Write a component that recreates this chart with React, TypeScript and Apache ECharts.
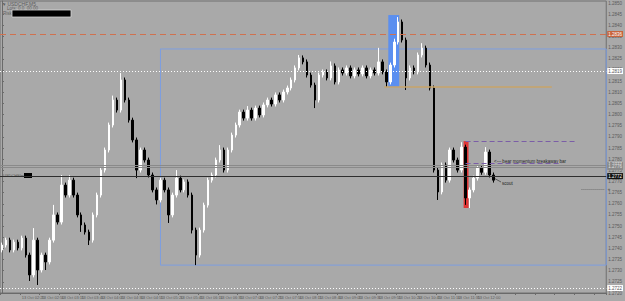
import React, { useEffect, useRef } from "react";
import * as echarts from "echarts";

// Prices in points (1e-5)
const firstOpen = 127393;
const closes = [
  127415, 127437, 127393, 127428, 127402, 127446, 127370, 127281, 127437, 127303,
  127370, 127339, 127437, 127550, 127518, 127684, 127639, 127706, 127639, 127550,
  127505, 127473, 127437, 127550, 127639, 127751, 127841, 127953, 128065, 128020,
  128155, 128065, 127975, 127886, 127751, 127841, 127796, 127729, 127662, 127617,
  127706, 127662, 127550, 127639, 127715, 127662, 127698, 127639, 127482, 127370,
  127482, 127594, 127706, 127729, 127796, 127841, 127751, 127841, 127908, 127953,
  128011, 127984, 128020, 127984, 128029, 127998, 128043, 128065, 128047, 128088,
  128065, 128101, 128119, 128155, 128209, 128254, 128236, 128177, 128132, 128065,
  128177, 128191, 128164, 128218, 128146, 128200, 128186, 128209, 128173, 128200,
  128182, 128209, 128173, 128200, 128186, 128236, 128191, 128146, 128222, 128325,
  128415, 128334, 128164, 128209, 128191, 128267, 128298, 128222, 128119, 127751,
  127653, 127774, 127706, 127841, 127796, 127751, 127854, 127626, 127662, 127715,
  127760, 127741, 127832, 127729, 127706,
];
const defaultWick = 11;
const upperWicks: [number, number][] = [
  [8, 54], [13, 45], [15, 45], [17, 22], [28, 20], [30, 31], [44, 36], [55, 22], [62, 18],
  [75, 13], [83, 20], [95, 63], [99, 15], [100, 22], [106, 22], [116, 22], [122, 22],
];
const lowerWicks: [number, number][] = [
  [7, 27], [9, 67], [11, 36], [20, 31], [22, 22], [34, 36], [39, 20], [42, 36], [48, 15],
  [49, 45], [79, 36], [97, 22], [102, 54], [110, 36], [117, 31], [118, 45],
];
const timeLabels = [
  "13 Oct 2016", "13 Oct 02:25", "13 Oct 02:50", "13 Oct 03:15", "13 Oct 03:40",
  "13 Oct 04:05", "13 Oct 04:30", "13 Oct 04:55", "13 Oct 05:20", "13 Oct 05:45",
  "13 Oct 06:10", "13 Oct 06:35", "13 Oct 07:00", "13 Oct 07:25", "13 Oct 07:50",
  "13 Oct 08:15", "13 Oct 08:40", "13 Oct 09:05", "13 Oct 09:30", "13 Oct 09:55",
  "13 Oct 10:20", "13 Oct 10:45", "13 Oct 11:10", "13 Oct 11:35", "13 Oct 12:00",
];
const totalSlots = 153;
// horizontal levels
const levelResistance = 128361;
const levelWhite = 128195;
const levelGray1 = 127774;
const levelGray2 = 127765;
const levelDark = 127724;
const levelBottom = 127222;
const levelTan = 128123;
const levelBreakHigh = 127881;
const levelBreakLow = 127783;
const levelScout = 127666;
const boxTop = 128294;
const boxBottom = 127325;
const blueBarTop = 128446;
const blueBarBottom = 128123;
const redBarTop = 127881;
const redBarBottom = 127581;

const fmt = (v: number) => (v / 100000).toFixed(4);

export default function App() {
  const ref = useRef<HTMLDivElement>(null);
  useEffect(() => {
    document.body.style.margin = "0";
    const chart = echarts.init(ref.current!, null, { renderer: "svg" });
    const up = new Map(upperWicks);
    const lo = new Map(lowerWicks);
    const data = closes.map((c, i) => {
      const o = i === 0 ? firstOpen : closes[i - 1];
      const h = Math.max(o, c) + (up.get(i) ?? defaultWick);
      const l = Math.min(o, c) - (lo.get(i) ?? defaultWick);
      return [o, c, l, h];
    });
    const cats = Array.from({ length: totalSlots }, (_, i) => String(i));
    const font = "Liberation Sans, Arial, sans-serif";
    const fullLine = (y: number, color: string, type: any, bg: string, txt: string) => ({
      yAxis: y,
      lineStyle: { color, type, width: 1 },
      label: {
        show: true, position: "end", formatter: fmt(y), distance: 1, fontSize: 4.5,
        color: txt, backgroundColor: bg, padding: [0.5, 1], fontFamily: font,
      },
    });
    const seg = (x1: number, x2: number, y: number, color: string, type: any, width = 1) => [
      { coord: [x1, y], lineStyle: { color, type, width }, label: { show: false } },
      { coord: [x2, y] },
    ];
    chart.setOption({
      animation: false,
      backgroundColor: "#a9a9a9",
      grid: { left: 0, right: 13, top: 1, bottom: 8, show: true, borderColor: "#707070", borderWidth: 1 },
      xAxis: [
        {
          type: "category", data: cats, boundaryGap: true,
          axisLine: { lineStyle: { color: "#6a6a6a" } },
          axisTick: { show: true, interval: 4, length: 2, lineStyle: { color: "#6a6a6a" } },
          axisLabel: {
            interval: 4, fontSize: 4, color: "#5a5a5a", margin: 2, align: "left", fontFamily: font,
            formatter: (_v: string, idx: number) => (idx < closes.length && idx % 5 === 0 ? timeLabels[idx / 5] ?? "" : ""),
          },
          splitLine: { show: false },
        },
        { type: "value", min: -0.5, max: totalSlots - 0.5, show: false },
      ],
      yAxis: {
        type: "value", position: "right", min: 127200, max: 128509, interval: 50, scale: true,
        axisLine: { show: true, lineStyle: { color: "#6a6a6a" } },
        axisTick: { show: true, length: 2, lineStyle: { color: "#6a6a6a" } },
        axisLabel: { fontSize: 4.5, color: "#5a5a5a", margin: 2, formatter: fmt, fontFamily: font, showMaxLabel: false },
        splitLine: { show: false },
      },
      series: [
        {
          type: "line", xAxisIndex: 1, z: 1, data: [[-0.5, 127800]], symbol: "none",
          lineStyle: { opacity: 0 }, silent: true,
          markArea: {
            silent: true,
            data: [
              [
                { coord: [40, boxTop], itemStyle: { color: "rgba(0,0,0,0)", borderColor: "#7d9ee0", borderWidth: 1 } },
                { coord: [totalSlots - 0.5, boxBottom] },
              ],
              [
                { coord: [97.5, blueBarTop], itemStyle: { color: "#5b8ff0" } },
                { coord: [100.25, blueBarBottom] },
              ],
              [
                { coord: [116.5, redBarTop], itemStyle: { color: "#e03535" } },
                { coord: [117.75, redBarBottom] },
              ],
            ],
          },
          markLine: {
            silent: true, symbol: ["none", "none"],
            data: [
              fullLine(levelResistance, "#d0714f", [6, 4], "#c8643c", "#ffffff"),
              fullLine(levelWhite, "#ffffff", [1, 2], "#ffffff", "#555555"),
              fullLine(levelGray1, "#8a8a8a", "solid", "#8a8a8a", "#e0e0e0"),
              fullLine(levelGray2, "#8a8a8a", "solid", "#8a8a8a", "#e0e0e0"),
              fullLine(levelDark, "#2e2e2e", "solid", "#111111", "#ffffff"),
              fullLine(levelBottom, "#ffffff", [1, 2], "#ffffff", "#555555"),
              seg(96.5, 138.75, levelTan, "#c9a468", "solid", 1.5),
              seg(117, 144.5, levelBreakHigh, "#7b5ea7", [5, 3]),
              seg(117, 141.25, levelBreakLow, "#7b5ea7", [5, 3]),
              seg(146.25, 152, levelScout, "#707070", [1, 1]),
            ],
          },
        },
        {
          type: "candlestick", xAxisIndex: 0, z: 2, data, barWidth: 2,
          itemStyle: { color: "#ffffff", borderColor: "#ffffff", color0: "#000000", borderColor0: "#000000", borderWidth: 1 },
        },
      ],
      graphic: [
        { type: "text", x: 3, y: 1, style: { text: "▾ USDCHF,M5", fontSize: 5, fill: "#5e5e5e", fontFamily: font } },
        { type: "text", x: 7, y: 6, style: { text: "Lots: 0.0, 00.00", fontSize: 4.5, fill: "#5e5e5e", fontFamily: font } },
        { type: "text", x: 3, y: 10.5, style: { text: "Risk:", fontSize: 4.5, fill: "#5e5e5e", fontFamily: font } },
        { type: "rect", shape: { x: 12, y: 10, width: 59, height: 7 }, style: { fill: "#000", stroke: "#d8d8d8", lineWidth: 0.8 } },
        { type: "text", x: 3, y: 173.5, style: { text: "USDCHFlmt", fontSize: 4, fill: "#5e5e5e", fontFamily: font } },
        { type: "rect", shape: { x: 24, y: 173, width: 8, height: 5 }, style: { fill: "#000" } },
        { type: "text", x: 494, y: 158.5, style: { text: "<--- bear momentum breakaway bar", fontSize: 4.5, fill: "#1e1e1e", fontFamily: font } },
        { type: "line", shape: { x1: 492, y1: 177, x2: 501, y2: 182 }, style: { stroke: "#333", lineWidth: 0.7 } },
        { type: "text", x: 502, y: 180.5, style: { text: "scout", fontSize: 4.5, fill: "#1e1e1e", fontFamily: font } },
        { type: "text", x: 607.5, y: 186, style: { text: "+", fontSize: 5, fill: "#555", fontFamily: font } },
      ],
    });
    return () => chart.dispose();
  }, []);
  return <div ref={ref} style={{ width: 625, height: 301, background: "#a9a9a9" }} />;
}
